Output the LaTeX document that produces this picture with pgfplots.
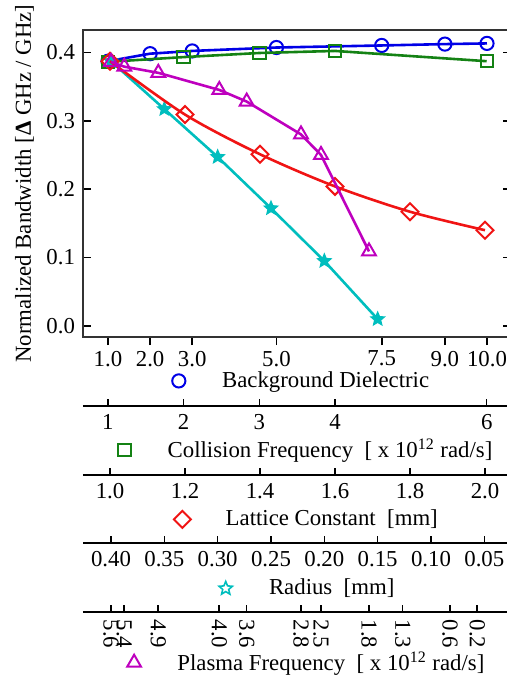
\documentclass[border=0pt]{standalone}
\usepackage{fontspec}
\setmainfont{Liberation Serif}
\usepackage{pgfplots}
\pgfplotsset{compat=1.18}
\definecolor{colB}{RGB}{0,0,230}
\definecolor{colG}{RGB}{20,130,20}
\definecolor{colR}{RGB}{240,20,20}
\definecolor{colC}{RGB}{0,190,190}
\definecolor{colM}{RGB}{190,0,190}
\pgfdeclareplotmark{pstar}{%
  \pgfpathmoveto{\pgfpointpolar{90}{\pgfplotmarksize}}%
  \pgfpathlineto{\pgfpointpolar{126}{0.45\pgfplotmarksize}}%
  \pgfpathlineto{\pgfpointpolar{162}{\pgfplotmarksize}}%
  \pgfpathlineto{\pgfpointpolar{198}{0.45\pgfplotmarksize}}%
  \pgfpathlineto{\pgfpointpolar{234}{\pgfplotmarksize}}%
  \pgfpathlineto{\pgfpointpolar{270}{0.45\pgfplotmarksize}}%
  \pgfpathlineto{\pgfpointpolar{306}{\pgfplotmarksize}}%
  \pgfpathlineto{\pgfpointpolar{342}{0.45\pgfplotmarksize}}%
  \pgfpathlineto{\pgfpointpolar{18}{\pgfplotmarksize}}%
  \pgfpathlineto{\pgfpointpolar{54}{0.45\pgfplotmarksize}}%
  \pgfpathclose
  \pgfusepathqfillstroke
}
\pgfplotsset{
  every axis/.append style={/pgf/number format/assume math mode=true},
  myleg/.style={legend cell align=left,
    legend style={draw=none, fill=none, inner sep=0pt, anchor=west,
      nodes={inner sep=0pt}, /tikz/every even column/.style={column sep=0pt}}},
  mkimg/.style={legend image code/.code={\draw[##1,only marks] plot coordinates {(0pt,0pt)}; \path (0pt,0pt) (21pt,0pt);}},
  over/.style={scale only axis, width=214pt, height=153.5pt, at={(41.5pt,170pt)},
    anchor=south west, ymin=-0.0161, ymax=0.4326, hide axis, myleg},
  sub/.style={scale only axis, width=214pt, height=20pt, anchor=south west,
    axis x line*=bottom, hide y axis, ymin=0, ymax=1, tick align=inside,
    major tick length=3.5pt, x axis line style={black, line width=1pt, -},
    tick style={black, line width=0.8pt}},
}
\begin{document}
\fontsize{11.4pt}{13.7pt}\selectfont%
\begin{tikzpicture}
% main axis with Background Dielectric
\begin{axis}[
  scale only axis, width=214pt, height=153.5pt,
  at={(41.5pt,170pt)}, anchor=south west,
  xmin=0.4063, xmax=10.570, ymin=-0.0161, ymax=0.4326,
  xtick={1,2,3,5,7.5,9,10}, xticklabels={1.0,2.0,3.0,5.0,7.5,9.0,10.0},
  xticklabel style={yshift=1pt},
  ytick={0,0.1,0.2,0.3,0.4},
  yticklabel style={/pgf/number format/.cd,fixed,fixed zerofill,precision=1},
  xtick pos=bottom, xtick align=outside, ytick align=inside,
  major tick length=4pt,
  axis line style={black!80, line width=1pt},
  tick style={black, line width=0.8pt},
  ylabel={Normalized Bandwidth [\textbf{Δ} GHz / GHz]},
  every axis y label/.style={at={(axis description cs:-0.1215,0.5)}, rotate=90, anchor=base},
  myleg, legend style={at={(axis description cs:0.2075,-0.143)}},
]
\addplot[colB, line width=1.3pt, mark=o, mark size=3.3pt, mark options={line width=1pt, solid}, mkimg]
  coordinates {(1,0.387) (2,0.398) (3,0.402) (5,0.407) (7.5,0.410) (9,0.412) (10,0.413)};
\addlegendentry{Background Dielectric}
\end{axis}
% Collision frequency series
\begin{axis}[over, xmin=0.6741, xmax=6.3206,
  legend style={at={(axis description cs:0.0813,-0.368)}}]
\addplot[colG, line width=1.3pt, mark=square, mark size=3.1pt, mark options={line width=1pt, solid}, mkimg]
  coordinates {(1,0.386) (2,0.393) (3,0.399) (4,0.402) (6,0.387)};
\addlegendentry{Collision Frequency\ \ [ x 10\textsuperscript{12} rad/s]}
\end{axis}
% Radius series
\begin{axis}[over, x dir=reverse, xmin=0.0250, xmax=0.42625,
  legend style={at={(axis description cs:0.317,-0.819)}},
  legend image code/.code={\draw[#1,only marks,mark options={fill=white,line width=0.8pt}] plot coordinates {(0pt,0pt)}; \path (0pt,0pt) (21pt,0pt);}]
\addplot[colC, line width=1.3pt, mark=pstar, mark size=3.5pt, mark options={line width=0.6pt, solid, fill=colC}]
  coordinates {(0.40,0.387) (0.35,0.317) (0.30,0.247) (0.25,0.172) (0.20,0.095) (0.15,0.010)};
\addlegendentry{Radius\ \ [mm]}
\end{axis}
% Lattice constant series
\begin{axis}[over, xmin=0.928, xmax=2.0693,
  legend style={at={(axis description cs:0.2115,-0.594)}}]
\addplot[colR, line width=1.3pt, smooth, mark=square, mark size=3.0pt, mark options={line width=1pt, solid, rotate=45}, mkimg]
  coordinates {(1.0,0.387) (1.2,0.309) (1.4,0.251) (1.6,0.204) (1.8,0.167) (2.0,0.140)};
\addlegendentry{Lattice Constant\ \ [mm]}
\end{axis}
% Plasma frequency series (x = position on the plasma frequency scale)
\begin{axis}[over, xmin=83, xmax=511,
  legend style={at={(axis description cs:0.1023,-1.061)}}]
\addplot[colM, line width=1.3pt, mark=triangle, mark size=4pt, mark options={line width=1pt, solid}, mkimg]
  coordinates {(111,0.386) (124.3,0.379) (158.3,0.370) (219.3,0.345) (246.7,0.328) (301,0.280) (321,0.250) (369,0.109)};
\addlegendentry{Plasma Frequency\ \ [ x 10\textsuperscript{12} rad/s]}
\end{axis}
% secondary x axes
\begin{axis}[sub, at={(41.5pt,135.5pt)}, xmin=0.6741, xmax=6.3206, xtick={1,2,3,4,6}]
\end{axis}
\begin{axis}[sub, at={(41.5pt,101pt)}, xmin=0.928, xmax=2.0693, xtick={1.0,1.2,1.4,1.6,1.8,2.0},
  xticklabel style={/pgf/number format/.cd,fixed,fixed zerofill,precision=1}]
\end{axis}
\begin{axis}[sub, at={(41.5pt,66.85pt)}, x dir=reverse, xmin=0.0250, xmax=0.42625,
  xtick={0.40,0.35,0.30,0.25,0.20,0.15,0.10,0.05},
  xticklabel style={/pgf/number format/.cd,fixed,fixed zerofill,precision=2}]
\end{axis}
\begin{axis}[sub, at={(41.5pt,32.65pt)}, xmin=83, xmax=511,
  xtick={111,124.3,158.3,219.3,246.7,301,321,369,402.7,450,477.3},
  xticklabels={5.6,5.4,4.9,4.0,3.6,2.8,2.5,1.8,1.3,0.6,0.2},
  xticklabel style={rotate=-90, anchor=west}]
\end{axis}
\pgfresetboundingbox
\path[use as bounding box] (0pt,0pt) rectangle (253.5pt,338.5pt);
\end{tikzpicture}%
\end{document}
